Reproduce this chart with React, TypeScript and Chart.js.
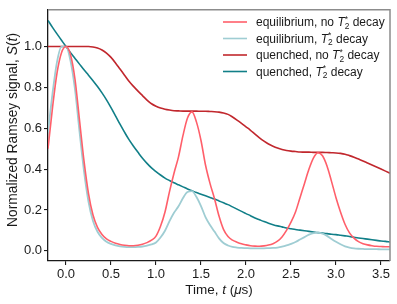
import React, { useEffect, useRef } from "react";
import { Chart, registerables } from "chart.js";

Chart.register(...registerables);

// Time axis (µs)
const timeUs = [
  -0.2, -0.15, -0.1, -0.05, 0, 0.05, 0.1, 0.15, 0.2, 0.25,
  0.3, 0.35, 0.4, 0.45, 0.5, 0.55, 0.6, 0.65, 0.7, 0.75,
  0.8, 0.85, 0.9, 0.95, 1.0, 1.05, 1.1, 1.15, 1.2, 1.25,
  1.3, 1.35, 1.4, 1.45, 1.5, 1.55, 1.6, 1.65, 1.7, 1.75,
  1.8, 1.85, 1.9, 1.95, 2.0, 2.05, 2.1, 2.15, 2.2, 2.25,
  2.3, 2.35, 2.4, 2.45, 2.5, 2.55, 2.6, 2.65, 2.7, 2.75,
  2.8, 2.85, 2.9, 2.95, 3.0, 3.05, 3.1, 3.15, 3.2, 3.25,
  3.3, 3.35, 3.4, 3.45, 3.5, 3.55, 3.6,
];

// equilibrium, no T2* decay
const equilibriumNoDecay = [
  0.5, 0.7, 0.87, 0.97, 1.0, 0.96, 0.84, 0.64, 0.44, 0.28,
  0.175, 0.115, 0.08, 0.058, 0.046, 0.037, 0.031, 0.027, 0.025, 0.025,
  0.027, 0.032, 0.04, 0.052, 0.072, 0.12, 0.19, 0.29, 0.38, 0.46,
  0.565, 0.65, 0.68, 0.63, 0.54, 0.42, 0.33, 0.255, 0.17, 0.105,
  0.07, 0.052, 0.042, 0.034, 0.029, 0.025, 0.023, 0.022, 0.024, 0.028,
  0.035, 0.047, 0.068, 0.1, 0.14, 0.19, 0.26, 0.33, 0.4, 0.455,
  0.48, 0.465, 0.415, 0.34, 0.26, 0.19, 0.13, 0.088, 0.062, 0.045,
  0.035, 0.029, 0.025, 0.022, 0.021, 0.02, 0.02,
];

// equilibrium, T2* decay
const equilibriumDecay = [
  0.58, 0.77, 0.925, 1.0, 1.0, 0.93, 0.79, 0.585, 0.39, 0.24,
  0.146, 0.093, 0.063, 0.044, 0.034, 0.027, 0.022, 0.019, 0.018, 0.018,
  0.019, 0.021, 0.025, 0.031, 0.041, 0.065, 0.098, 0.145, 0.186, 0.218,
  0.258, 0.288, 0.292, 0.263, 0.219, 0.165, 0.126, 0.094, 0.061, 0.038,
  0.026, 0.019, 0.016, 0.014, 0.013, 0.012, 0.012, 0.012, 0.012, 0.013,
  0.014, 0.016, 0.02, 0.026, 0.034, 0.043, 0.055, 0.067, 0.079, 0.087,
  0.089, 0.084, 0.073, 0.058, 0.044, 0.032, 0.022, 0.016, 0.012, 0.01,
  0.009, 0.008, 0.008, 0.008, 0.007, 0.007, 0.007,
];

// quenched, no T2* decay
const quenchedNoDecay = [
  1.0, 1.0, 1.0, 1.0, 1.0, 1.0, 1.0, 1.0, 1.0, 1.0,
  0.998, 0.993, 0.983, 0.968, 0.947, 0.92, 0.89, 0.86, 0.83, 0.805,
  0.782, 0.76, 0.738, 0.72, 0.708, 0.699, 0.693, 0.689, 0.686, 0.685,
  0.684, 0.684, 0.684, 0.684, 0.683, 0.683, 0.682, 0.681, 0.679, 0.675,
  0.668, 0.655, 0.64, 0.624, 0.607, 0.59, 0.571, 0.553, 0.537, 0.523,
  0.512, 0.503, 0.496, 0.491, 0.488, 0.486, 0.484, 0.483, 0.483, 0.482,
  0.482, 0.482, 0.481, 0.48, 0.479, 0.477, 0.473, 0.466, 0.458, 0.449,
  0.44, 0.43, 0.42, 0.41, 0.4, 0.39, 0.38,
];

// quenched, T2* decay
const quenchedDecay = [
  1.128, 1.094, 1.062, 1.031, 1.0, 0.97, 0.942, 0.914, 0.886, 0.86,
  0.833, 0.804, 0.773, 0.739, 0.701, 0.661, 0.62, 0.581, 0.544, 0.512,
  0.482, 0.453, 0.428, 0.406, 0.388, 0.371, 0.356, 0.344, 0.333, 0.323,
  0.313, 0.303, 0.294, 0.285, 0.277, 0.269, 0.261, 0.253, 0.244, 0.235,
  0.226, 0.215, 0.204, 0.193, 0.182, 0.172, 0.161, 0.152, 0.143, 0.135,
  0.128, 0.122, 0.117, 0.112, 0.108, 0.104, 0.101, 0.098, 0.095, 0.092,
  0.089, 0.087, 0.084, 0.081, 0.079, 0.076, 0.073, 0.07, 0.066, 0.063,
  0.06, 0.057, 0.054, 0.051, 0.048, 0.046, 0.043,
];

const xTickValues = [0, 0.5, 1.0, 1.5, 2.0, 2.5, 3.0, 3.5];
const yTickValues = [0, 0.2, 0.4, 0.6, 0.8, 1.0];

const legendPrefixes = ["equilibrium, no ", "equilibrium, ", "quenched, no ", "quenched, "];
const seriesColors = ["#ff5f6a", "#9fcdd3", "#c1272d", "#117f88"];

const FONT = '"Liberation Sans", Arial, Helvetica, sans-serif';
const INK = "#1a1a1a";

type Run = { text: string; italic?: boolean; size: number; dy?: number; overlap?: boolean };

function runFont(r: Run) {
  return `${r.italic ? "italic " : ""}${r.size}px ${FONT}`;
}

function runsWidth(ctx: CanvasRenderingContext2D, runs: Run[]) {
  let w = 0;
  let pending = 0;
  for (const r of runs) {
    ctx.font = runFont(r);
    const m = ctx.measureText(r.text).width;
    if (r.overlap) {
      pending = m;
      continue;
    }
    w += Math.max(m, pending);
    pending = 0;
  }
  return w;
}

function drawRuns(ctx: CanvasRenderingContext2D, runs: Run[], x: number, y: number) {
  let cx = x;
  let pending = 0;
  for (const r of runs) {
    ctx.font = runFont(r);
    const m = ctx.measureText(r.text).width;
    ctx.fillText(r.text, cx, y + (r.dy || 0));
    if (r.overlap) {
      pending = m;
      continue;
    }
    cx += Math.max(m, pending);
    pending = 0;
  }
}

const decorPlugin = {
  id: "decor",
  afterDraw(chart: any) {
    const ctx: CanvasRenderingContext2D = chart.ctx;
    const area = chart.chartArea;
    ctx.save();

    // top & right spines (grey)
    ctx.strokeStyle = "#8c8c8c";
    ctx.lineWidth = 1.5;
    ctx.beginPath();
    ctx.moveTo(area.left, area.top);
    ctx.lineTo(area.right, area.top);
    ctx.lineTo(area.right, area.bottom);
    ctx.stroke();

    // legend
    const rows = [22, 38.5, 55, 71.5];
    const fs = 12;
    ctx.textAlign = "left";
    ctx.textBaseline = "alphabetic";
    rows.forEach((ry, i) => {
      ctx.strokeStyle = seriesColors[i];
      ctx.lineWidth = 1.6;
      ctx.beginPath();
      ctx.moveTo(223, ry);
      ctx.lineTo(247, ry);
      ctx.stroke();
      ctx.fillStyle = INK;
      const runs: Run[] = [
        { text: legendPrefixes[i], size: fs },
        { text: "T", italic: true, size: fs },
        { text: "2", size: 8.4, dy: 2.9, overlap: true },
        { text: "*", size: 8.4, dy: -4.4 },
        { text: " decay", size: fs },
      ];
      drawRuns(ctx, runs, 256, ry + 4);
    });

    // x title
    const xs = 13.5;
    const xRuns: Run[] = [
      { text: "Time, ", size: xs },
      { text: "t", italic: true, size: xs },
      { text: " (", size: xs },
      { text: "\u03bc", italic: true, size: xs },
      { text: "s)", size: xs },
    ];
    ctx.fillStyle = INK;
    const xw = runsWidth(ctx, xRuns);
    drawRuns(ctx, xRuns, (area.left + area.right) / 2 - xw / 2, 294);

    // y title
    const ys = 13.8;
    const yRuns: Run[] = [
      { text: "Normalized Ramsey signal, ", size: ys },
      { text: "S", italic: true, size: ys },
      { text: "(", size: ys },
      { text: "t", italic: true, size: ys },
      { text: ")", size: ys },
    ];
    const yw = runsWidth(ctx, yRuns);
    ctx.translate(16.5, 130);
    ctx.rotate(-Math.PI / 2);
    drawRuns(ctx, yRuns, -yw / 2, 0);

    ctx.restore();
  },
};

function makeData(values: number[]) {
  return timeUs.map((t, i) => ({ x: t, y: values[i] }));
}

export default function App() {
  const ref = useRef<HTMLCanvasElement>(null);

  useEffect(() => {
    if (!ref.current) return;
    const lineDs = (label: string, values: number[], color: string, width: number) => ({
      label,
      data: makeData(values),
      borderColor: color,
      backgroundColor: color,
      borderWidth: width,
      pointRadius: 0,
      fill: false,
      cubicInterpolationMode: "monotone" as const,
    });

    const tickFont = { family: FONT, size: 13 };

    const chart = new Chart(ref.current, {
      type: "line",
      data: {
        datasets: [
          lineDs("equilibrium, no T2* decay", equilibriumNoDecay, seriesColors[0], 1.6),
          lineDs("equilibrium, T2* decay", equilibriumDecay, seriesColors[1], 1.8),
          lineDs("quenched, no T2* decay", quenchedNoDecay, seriesColors[2], 1.6),
          lineDs("quenched, T2* decay", quenchedDecay, seriesColors[3], 1.6),
        ],
      },
      options: {
        animation: false,
        responsive: false,
        maintainAspectRatio: false,
        layout: { padding: { left: 0, top: 7, right: 7, bottom: 0 } },
        plugins: {
          legend: { display: false },
          tooltip: { enabled: false },
        },
        scales: {
          x: {
            type: "linear",
            min: -0.2,
            max: 3.6,
            afterBuildTicks: (s: any) => {
              s.ticks = xTickValues.map((v) => ({ value: v }));
            },
            afterFit: (s: any) => {
              s.height = 43;
            },
            ticks: {
              callback: (v: any) => Number(v).toFixed(1),
              font: tickFont,
              color: INK,
              padding: 2,
              maxRotation: 0,
              autoSkip: false,
            },
            grid: {
              display: true,
              drawOnChartArea: false,
              drawTicks: true,
              tickLength: 4,
              color: INK,
              lineWidth: 1.1,
            },
            border: { display: true, color: INK, width: 1.3 },
          },
          y: {
            type: "linear",
            min: -0.05,
            max: 1.18,
            afterBuildTicks: (s: any) => {
              s.ticks = yTickValues.map((v) => ({ value: v }));
            },
            afterFit: (s: any) => {
              s.width = 48;
            },
            ticks: {
              callback: (v: any) => Number(v).toFixed(1),
              font: tickFont,
              color: INK,
              padding: 2,
              autoSkip: false,
            },
            grid: {
              display: true,
              drawOnChartArea: false,
              drawTicks: true,
              tickLength: 4,
              color: INK,
              lineWidth: 1.1,
            },
            border: { display: true, color: INK, width: 1.3 },
          },
        },
      },
      plugins: [decorPlugin],
    } as any);

    return () => chart.destroy();
  }, []);

  return (
    <div style={{ position: "fixed", left: 0, top: 0, width: 397, height: 304, background: "#fff" }}>
      <canvas ref={ref} width={397} height={304} style={{ display: "block", width: 397, height: 304 }} />
    </div>
  );
}
